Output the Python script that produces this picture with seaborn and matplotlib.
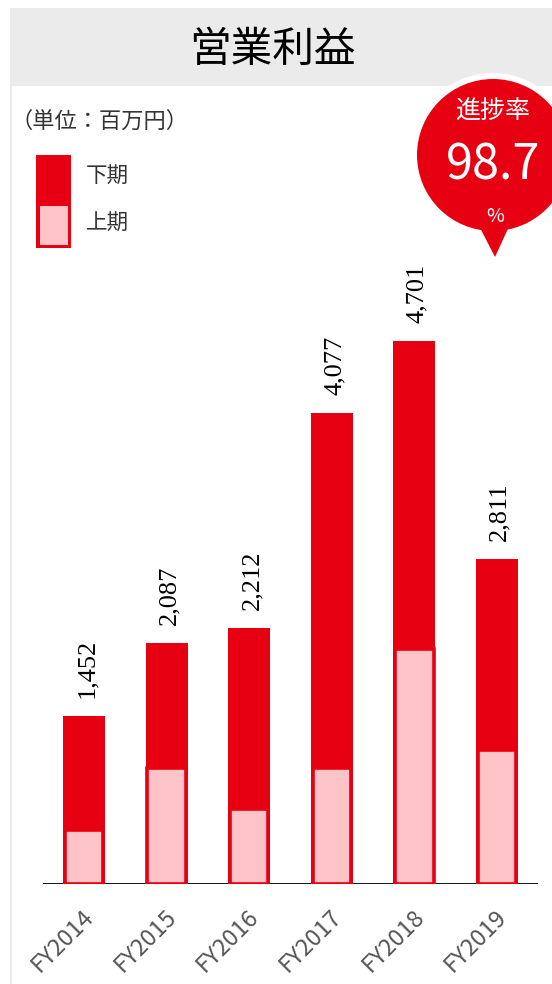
import matplotlib
matplotlib.use("Agg")
import matplotlib.pyplot as plt
import matplotlib.transforms as mtransforms
from matplotlib.patches import Rectangle, Circle, Polygon
import seaborn as sns
import pandas as pd

# ---- data ----
years = ["FY2014", "FY2015", "FY2016", "FY2017", "FY2018", "FY2019"]
total = [1452, 2087, 2212, 4077, 4701, 2811]          # 通期 (上期+下期)
first_half = [467, 1003, 648, 1003, 2031, 1158]        # 上期 (estimated)
title = "営業利益"
unit_label = "（単位：百万円）"
legend_labels = ["下期", "上期"]
badge_title = "進捗率"
badge_value = "98.7"
badge_unit = "%"

RED = "#e60012"
PINK = "#fec3c7"
GRAY_BG = "#ebebeb"
JP = ["Noto Sans CJK JP", "DejaVu Sans"]

sns.set_theme(style="white")
plt.rcParams["font.family"] = JP

W, H = 552, 984
fig = plt.figure(figsize=(W / 100, H / 100), dpi=100)

# background / frame axes in pixel coordinates
bg = fig.add_axes([0, 0, 1, 1], zorder=0)
bg.set_xlim(0, W)
bg.set_ylim(H, 0)
bg.axis("off")
bg.add_patch(Rectangle((10, 8), W - 10, H - 8, color=GRAY_BG, lw=0))
bg.add_patch(Rectangle((12, 86), W - 12, H - 86, color="white", lw=0))

# main chart axes
left_px, right_px = 42.7, 538.3
base_px, top_px = 884, 260
ax = fig.add_axes([left_px / W, (H - base_px) / H,
                   (right_px - left_px) / W, (base_px - top_px) / H], zorder=1)
ax.patch.set_alpha(0)

df = pd.DataFrame({"year": years, "total": total, "first": first_half})
sns.barplot(data=df, x="year", y="total", color=RED, saturation=1,
            width=0.508, errorbar=None, ax=ax, zorder=2, linewidth=0)
sns.barplot(data=df, x="year", y="first", color=PINK, saturation=1,
            width=0.466, errorbar=None, ax=ax, zorder=3,
            edgecolor=RED, linewidth=2.6)

ax.set_xlim(-0.5, 5.5)
ax.set_ylim(0, 5400)
ax.axhline(0, color="black", lw=1.3, zorder=1)
for s in ax.spines.values():
    s.set_visible(False)
ax.set_yticks([])
ax.set_xlabel("")
ax.set_ylabel("")
ax.tick_params(axis="x", length=0, pad=15)
ax.set_xticks(range(len(years)))
ax.set_xticklabels(years, rotation=45, ha="right", rotation_mode="anchor",
                   fontsize=17, color="#555555", family=JP)
offset = mtransforms.ScaledTranslation(-2 / 100, 0, fig.dpi_scale_trans)
for lbl in ax.get_xticklabels():
    lbl.set_transform(lbl.get_transform() + offset)

for i, v in enumerate(total):
    ax.annotate(f"{v:,}", xy=(i, v), xytext=(2, 13), textcoords="offset points",
                rotation=90, ha="center", va="bottom", fontsize=19,
                family=["Liberation Serif", "DejaVu Serif"], color="black")

# overlay axes for decorations
fg = fig.add_axes([0, 0, 1, 1], zorder=3)
fg.set_xlim(0, W)
fg.set_ylim(H, 0)
fg.axis("off")
fg.patch.set_alpha(0)

fg.text(272, 50, title, ha="center", va="center", fontsize=30, color="black")
fg.text(10, 121, unit_label, ha="left", va="center", fontsize=16, color="#333333")

# legend
fg.add_patch(Rectangle((36, 155), 35, 93, color=RED, lw=0))
fg.add_patch(Rectangle((39.5, 206), 28, 38.5, color=PINK, lw=0))
fg.text(86, 177, legend_labels[0], ha="left", va="center", fontsize=15.5, color="#333333")
fg.text(86, 224, legend_labels[1], ha="left", va="center", fontsize=15.5, color="#333333")

# badge
cx, cy, r = 493, 155, 76
fg.add_patch(Circle((cx, cy), r + 6, color="white", lw=0))
fg.add_patch(Polygon([(476, 220), (512, 220), (495, 257)], closed=True, color=RED, lw=0))
fg.add_patch(Circle((cx, cy), r, color=RED, lw=0))
fg.text(493, 112, badge_title, ha="center", va="center", fontsize=18, color="white")
fg.text(493, 166, badge_value, ha="center", va="center", fontsize=35, color="white")
fg.text(495, 216, badge_unit, ha="center", va="center", fontsize=14, color="white")

fig.savefig("out.png", dpi=100)
